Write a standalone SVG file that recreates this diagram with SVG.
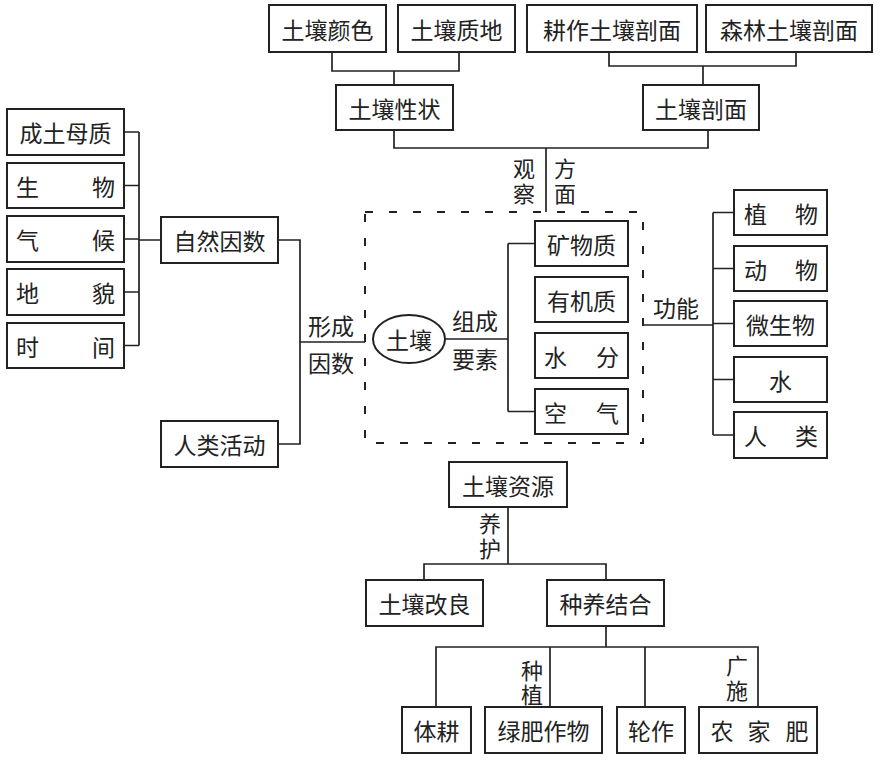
<svg xmlns="http://www.w3.org/2000/svg" width="885" height="760" viewBox="0 0 885 760">
<style>
.box{fill:#fff;stroke:#222;stroke-width:2}
.ln{fill:none;stroke:#222;stroke-width:1.7}
.dash{fill:none;stroke:#222;stroke-width:2;stroke-dasharray:8 16}
text{font-family:"Noto Sans CJK SC","Noto Sans",sans-serif;font-size:23px;fill:#222;dominant-baseline:central}
.v{font-size:22px}
.m{text-anchor:middle}
.s{text-anchor:start}
.e{text-anchor:end}
</style>
<rect width="885" height="760" fill="#fff"/>
<g id="connectors">
<path class="ln" d="M332 52V71H459V52M394 71V85"/>
<path class="ln" d="M609 52V66H796V52M703 66V85"/>
<path class="ln" d="M394 130V148H708V130M546 148V212"/>
<path class="ln" d="M124 132H139M124 185.5H139M124 239H139M124 292H139M124 345.5H139M139 132V345.5M139 240H161"/>
<path class="ln" d="M278 240H300V444H278M300 342H365"/>
<path class="ln" d="M445 339H508M508 243.5V411.5M508 243.5H535M508 411.5H535"/>
<path class="ln" d="M643 325H713M713 212.5V435M713 212.5H734M713 268.5H734M713 323.5H734M713 379.5H734M713 435H734"/>
<path class="ln" d="M508 507V564M424 580V564H606V580"/>
<path class="ln" d="M606 626V647M436 707V647H758V707M550 647V707M645 647V707"/>
</g>
<g id="dashed-frame"><rect class="dash" x="365" y="212" width="278" height="231"/></g>
<g id="n-color"><rect class="box" x="269" y="5" width="117" height="47"/><text class="m" x="327.5" y="28.5">土壤颜色</text></g>
<g id="n-texture"><rect class="box" x="398" y="5" width="117" height="47"/><text class="m" x="456.5" y="28.5">土壤质地</text></g>
<g id="n-till-profile"><rect class="box" x="527" y="5" width="170" height="47"/><text class="m" x="612" y="28.5">耕作土壤剖面</text></g>
<g id="n-forest-profile"><rect class="box" x="706" y="5" width="166" height="47"/><text class="m" x="789" y="28.5">森林土壤剖面</text></g>
<g id="n-property"><rect class="box" x="336" y="85" width="117" height="45"/><text class="m" x="394.5" y="107.5">土壤性状</text></g>
<g id="n-profile"><rect class="box" x="643" y="85" width="116" height="45"/><text class="m" x="701" y="107.5">土壤剖面</text></g>
<g id="l-observe"><text class="m v" x="524" y="167"><tspan x="524" y="167">观</tspan><tspan x="524" y="192">察</tspan></text><text class="m v" x="565" y="167"><tspan x="565" y="167">方</tspan><tspan x="565" y="192">面</tspan></text></g>
<g id="n-parent"><rect class="box" x="7" y="109" width="117" height="46"/><text class="m" x="65.5" y="132">成土母质</text></g>
<g id="n-bio"><rect class="box" x="7" y="163" width="117" height="45"/><text class="s" x="16" y="185.5">生</text><text class="e" x="115" y="185.5">物</text></g>
<g id="n-climate"><rect class="box" x="7" y="216" width="117" height="46"/><text class="s" x="16" y="239">气</text><text class="e" x="115" y="239">候</text></g>
<g id="n-landform"><rect class="box" x="7" y="269" width="117" height="46"/><text class="s" x="16" y="292">地</text><text class="e" x="115" y="292">貌</text></g>
<g id="n-time"><rect class="box" x="7" y="323" width="117" height="45"/><text class="s" x="16" y="345.5">时</text><text class="e" x="115" y="345.5">间</text></g>
<g id="n-natural"><rect class="box" x="161" y="217" width="117" height="46"/><text class="m" x="219.5" y="240">自然因数</text></g>
<g id="n-human"><rect class="box" x="161" y="421" width="117" height="46"/><text class="m" x="219.5" y="444">人类活动</text></g>
<g id="l-form"><text class="m" x="331" y="325">形成</text><text class="m" x="331" y="362">因数</text></g>
<g id="n-soil"><ellipse cx="409" cy="339" rx="36" ry="24" fill="#fff" stroke="#222" stroke-width="2"/><text class="m" x="409" y="339">土壤</text></g>
<g id="l-compose"><text class="m" x="475" y="320">组成</text><text class="m" x="475" y="358">要素</text></g>
<g id="n-mineral"><rect class="box" x="535" y="221" width="93" height="45"/><text class="m" x="581.5" y="243.5">矿物质</text></g>
<g id="n-organic"><rect class="box" x="535" y="277" width="93" height="45"/><text class="m" x="581.5" y="299.5">有机质</text></g>
<g id="n-water-c"><rect class="box" x="535" y="333" width="93" height="45"/><text class="s" x="544" y="355.5">水</text><text class="e" x="619" y="355.5">分</text></g>
<g id="n-air"><rect class="box" x="535" y="389" width="93" height="45"/><text class="s" x="544" y="411.5">空</text><text class="e" x="619" y="411.5">气</text></g>
<g id="l-function"><text class="m" x="676" y="307">功能</text></g>
<g id="n-plant"><rect class="box" x="734" y="190" width="93" height="45"/><text class="s" x="744" y="212.5">植</text><text class="e" x="818" y="212.5">物</text></g>
<g id="n-animal"><rect class="box" x="734" y="246" width="93" height="45"/><text class="s" x="744" y="268.5">动</text><text class="e" x="818" y="268.5">物</text></g>
<g id="n-microbe"><rect class="box" x="734" y="301" width="93" height="45"/><text class="m" x="780.5" y="323.5">微生物</text></g>
<g id="n-water"><rect class="box" x="734" y="357" width="93" height="45"/><text class="m" x="780.5" y="379.5">水</text></g>
<g id="n-people"><rect class="box" x="734" y="412" width="93" height="46"/><text class="s" x="744" y="435">人</text><text class="e" x="818" y="435">类</text></g>
<g id="n-resource"><rect class="box" x="449" y="462" width="118" height="45"/><text class="m" x="508" y="484.5">土壤资源</text></g>
<g id="l-maintain"><text class="m v" x="490" y="522"><tspan x="490" y="522">养</tspan><tspan x="490" y="547">护</tspan></text></g>
<g id="n-improve"><rect class="box" x="366" y="580" width="117" height="46"/><text class="m" x="424.5" y="603">土壤改良</text></g>
<g id="n-combine"><rect class="box" x="547" y="580" width="117" height="46"/><text class="m" x="605.5" y="603">种养结合</text></g>
<g id="l-plant"><text class="m v" x="532" y="669"><tspan x="532" y="669">种</tspan><tspan x="532" y="693">植</tspan></text></g>
<g id="l-apply"><text class="m v" x="737" y="664"><tspan x="737" y="664">广</tspan><tspan x="737" y="689">施</tspan></text></g>
<g id="n-tillage"><rect class="box" x="402" y="707" width="69" height="46"/><text class="m" x="436.5" y="730">体耕</text></g>
<g id="n-green"><rect class="box" x="485" y="707" width="117" height="46"/><text class="m" x="543.5" y="730">绿肥作物</text></g>
<g id="n-rotation"><rect class="box" x="617" y="707" width="68" height="46"/><text class="m" x="651" y="730">轮作</text></g>
<g id="n-manure"><rect class="box" x="699" y="707" width="118" height="46"/><text class="m" x="722" y="730">农</text><text class="m" x="759" y="730">家</text><text class="m" x="797" y="730">肥</text></g>
</svg>
